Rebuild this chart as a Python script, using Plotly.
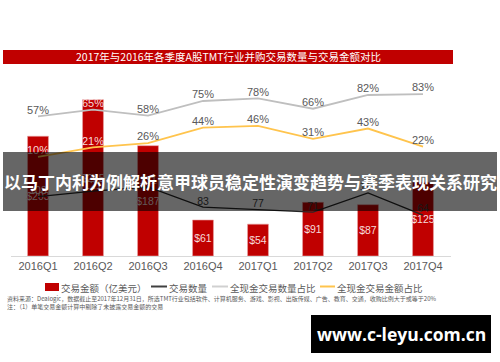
import plotly.graph_objects as go

W, H = 500, 362

quarters = ["2016Q1", "2016Q2", "2016Q3", "2016Q4", "2017Q1", "2017Q2", "2017Q3", "2017Q4"]
deal_value = [203, 265, 187, 61, 54, 91, 87, 125]          # 交易金额（亿美元）
deal_count = [108, 121, 131, 83, 77, 71, 117, 64]           # 交易数量
cash_count_pct = [57, 65, 58, 75, 78, 66, 82, 83]           # 全现金交易数量占比
cash_value_pct = [10, 21, 26, 44, 46, 31, 43, 22]           # 全现金交易金额占比

title_text = "2017年与2016年各季度A股TMT行业并购交易数量与交易金额对比"
band_text = "以马丁内利为例解析意甲球员稳定性演变趋势与赛季表现关系研究"
legend_names = ["交易金额（亿美元）", "交易数量", "全现金交易数量占比", "全现金交易金额占比"]
source1 = "资料来源：Dealogic，数据截止至2017年12月31日，所选TMT行业包括软件、计算机服务、游戏、影视、出版传媒、广告、教育、交通，收购比例大于或等于20%"
source2 = "注：（1）单笔交易金额计算中剔除了未披露交易金额的交易"
watermark = "www.c-leyu.com.cn"

FONT = "Liberation Sans, Arial, Noto Sans CJK SC, sans-serif"
CJK = "Noto Sans CJK SC, sans-serif"
RED = "#C00000"
GRAY = "#BFBFBF"
YELLOW = "#FFC44D"
DARK = "#262626"
TXT = "#595959"
ONBAR = "#F6DADA"

def px(x):
    return x / W

def py(y):
    return (H - y) / H

fig = go.Figure()

fig.add_trace(go.Bar(
    x=quarters, y=deal_value, yaxis="y",
    marker=dict(color=RED, line=dict(color="#E9A3A3", width=0.6)),
    width=0.38,
    text=["$" + str(v) for v in deal_value],
    textposition="inside", insidetextanchor="middle", textangle=0,
    constraintext="none",
    textfont=dict(color=ONBAR, size=10.5, family=FONT),
    name=legend_names[0], showlegend=False,
))

fig.add_trace(go.Scatter(
    x=quarters, y=deal_count, yaxis="y2", mode="lines+text",
    line=dict(color=DARK, width=1.3),
    text=[str(v) for v in deal_count], textposition="top center",
    textfont=dict(color=[ONBAR, ONBAR, ONBAR, "#404040", "#404040", "#404040", "#404040", "#404040"],
                  size=10.5, family=FONT),
    name=legend_names[1], showlegend=False,
))

fig.add_trace(go.Scatter(
    x=quarters, y=cash_count_pct, yaxis="y3", mode="lines+text",
    line=dict(color=GRAY, width=1.8),
    text=[f"{v}%" for v in cash_count_pct], textposition="top center",
    textfont=dict(color=[TXT, ONBAR, TXT, TXT, TXT, TXT, TXT, TXT], size=11, family=FONT),
    name=legend_names[2], showlegend=False,
))

fig.add_trace(go.Scatter(
    x=quarters, y=cash_value_pct, yaxis="y3", mode="lines+text",
    line=dict(color=YELLOW, width=1.8),
    text=[f"{v}%" for v in cash_value_pct], textposition="top center",
    textfont=dict(color=[ONBAR, ONBAR, TXT, TXT, TXT, TXT, TXT, TXT], size=11, family=FONT),
    name=legend_names[3], showlegend=False,
))

# plot area: x domain 10.5..450.5 px, y domain 40..256 px
dom_x = [px(10.5), px(450.5)]
dom_y = [py(256), py(40)]
plot_h = 216

bar_scale = 0.59
cnt_scale, cnt_zero = 0.42, 242
pct_scale, pct_zero = 0.86, 165.5

fig.update_layout(
    width=W, height=H,
    margin=dict(l=0, r=0, t=0, b=0),
    paper_bgcolor="white", plot_bgcolor="white",
    font=dict(family=FONT, color=TXT),
    xaxis=dict(domain=dom_x, range=[-0.5, 7.5], type="category",
               showline=True, linecolor="#D9D9D9", linewidth=1,
               showgrid=False, ticks="", zeroline=False,
               tickfont=dict(size=11, color=TXT, family=FONT)),
    yaxis=dict(domain=dom_y, range=[0, plot_h / bar_scale], visible=False),
    yaxis2=dict(overlaying="y", range=[-(256 - cnt_zero) / cnt_scale, (cnt_zero - 40) / cnt_scale], visible=False),
    yaxis3=dict(overlaying="y", range=[-(256 - pct_zero) / pct_scale, (pct_zero - 40) / pct_scale], visible=False),
)

shapes = []
annotations = []

# title bar
shapes.append(dict(type="rect", xref="paper", yref="paper", x0=px(3), x1=px(453), y0=py(64), y1=py(50),
                   fillcolor=RED, line=dict(width=0), layer="above"))
annotations.append(dict(xref="paper", yref="paper", x=px(228), y=py(57), text=title_text, showarrow=False,
                        font=dict(color="white", size=10.5, family=CJK), xanchor="center", yanchor="middle"))

# legend (manual)
shapes.append(dict(type="rect", xref="paper", yref="paper", x0=px(45), x1=px(59), y0=py(291), y1=py(283),
                   fillcolor=RED, line=dict(width=0)))
annotations.append(dict(xref="paper", yref="paper", x=px(59), y=py(287.5), text=legend_names[0], showarrow=False,
                        font=dict(color=TXT, size=9.5, family=CJK), xanchor="left", yanchor="middle"))
for (x0, x1, tx, col, nm) in [(151, 167, 167, "#404040", legend_names[1]),
                               (212, 228, 228, "#D0D0D0", legend_names[2]),
                               (320, 335, 335, YELLOW, legend_names[3])]:
    shapes.append(dict(type="line", xref="paper", yref="paper", x0=px(x0), x1=px(x1), y0=py(286.5), y1=py(286.5),
                       line=dict(color=col, width=2)))
    annotations.append(dict(xref="paper", yref="paper", x=px(tx), y=py(287.5), text=nm, showarrow=False,
                            font=dict(color=TXT, size=9.5, family=CJK), xanchor="left", yanchor="middle"))

# source notes
annotations.append(dict(xref="paper", yref="paper", x=px(5), y=py(298.5), text=source1, showarrow=False,
                        font=dict(color=TXT, size=6, family=CJK), xanchor="left", yanchor="middle"))
annotations.append(dict(xref="paper", yref="paper", x=px(5), y=py(306), text=source2, showarrow=False,
                        font=dict(color=TXT, size=6, family=CJK), xanchor="left", yanchor="middle"))

# overlay band
shapes.append(dict(type="rect", xref="paper", yref="paper", x0=px(3), x1=px(497), y0=py(211), y1=py(152),
                   fillcolor="rgba(0,0,0,0.6)", line=dict(width=0), layer="above"))
annotations.append(dict(xref="paper", yref="paper", x=px(250), y=py(182), text="<b>" + band_text + "</b>",
                        showarrow=False, font=dict(color="white", size=17, family=CJK),
                        xanchor="center", yanchor="middle"))

# watermark
shapes.append(dict(type="rect", xref="paper", yref="paper", x0=px(311), x1=px(491), y0=py(353), y1=py(315),
                   fillcolor="black", line=dict(width=0), layer="above"))
annotations.append(dict(xref="paper", yref="paper", x=px(401), y=py(334), text="<b>" + watermark + "</b>",
                        showarrow=False, font=dict(color="white", size=17.5, family="Open Sans, sans-serif"),
                        xanchor="center", yanchor="middle"))

fig.update_layout(shapes=shapes, annotations=annotations)

fig.write_html("out.html")
